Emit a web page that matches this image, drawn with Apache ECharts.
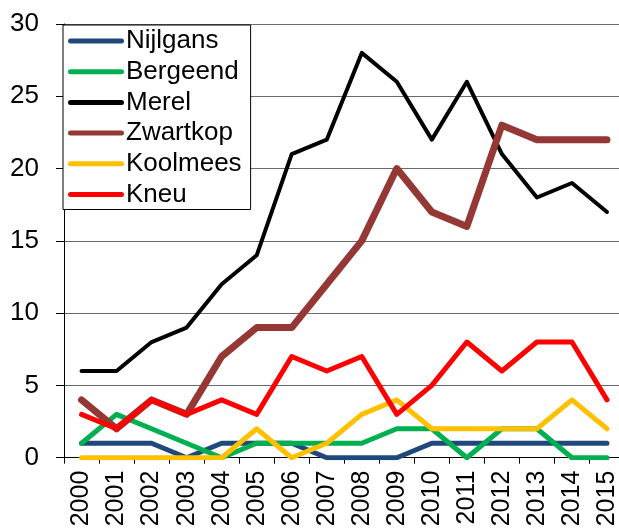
<!DOCTYPE html>
<html>
<head>
<meta charset="utf-8">
<script src="https://cdn.jsdelivr.net/npm/echarts@6/dist/echarts.min.js"></script>
<style>
  html, body { margin: 0; padding: 0; background: #fff; }
  #chart { width: 619px; height: 528px; }
</style>
</head>
<body>
<div id="chart"></div>
<script>
// jaren en tellingen per soort
const years = ['2000', '2001', '2002', '2003', '2004', '2005', '2006', '2007',
               '2008', '2009', '2010', '2011', '2012', '2013', '2014', '2015'];

const nijlgans  = [1, 1, 1, 0, 1, 1, 1, 0, 0, 0, 1, 1, 1, 1, 1, 1];
const bergeend  = [1, 3, 2, 1, 0, 1, 1, 1, 1, 2, 2, 0, 2, 2, 0, 0];
const merel     = [6, 6, 8, 9, 12, 14, 21, 22, 28, 26, 22, 26, 21, 18, 19, 17];
const zwartkop  = [4, 2, 4, 3, 7, 9, 9, 12, 15, 20, 17, 16, 23, 22, 22, 22];
const koolmees  = [0, 0, 0, 0, 0, 2, 0, 1, 3, 4, 2, 2, 2, 2, 4, 2];
const kneu      = [3, 2, 4, 3, 4, 3, 7, 6, 7, 3, 5, 8, 6, 8, 8, 4];

const yTicks = { min: 0, max: 30, step: 5 };

const font = 'Liberation Sans, Arial, sans-serif';

// lijn-serie maken
function makeLine(name, data, color, width) {
    return {
        name: name,
        type: 'line',
        data: data,
        symbol: 'none',
        animation: false,
        lineStyle: { color: color, width: width, cap: 'round', join: 'round' },
        itemStyle: { color: color }
    };
}

const chart = echarts.init(document.getElementById('chart'));

const option = {
    backgroundColor: '#fff',
    animation: false,
    grid: {
        left: 64,
        top: 24,
        right: -5.5,
        bottom: 70.3,
        outerBoundsMode: 'none'
    },
    legend: {
        orient: 'vertical',
        left: 63,
        top: 25,
        padding: [3, 9, 2, 5],
        itemGap: 4.7,
        itemWidth: 56,
        itemHeight: 5,
        icon: 'path://M2.5,0 L53.5,0 A2.5,2.5 0 0 1 53.5,5 L2.5,5 A2.5,2.5 0 0 1 2.5,0 Z',
        borderColor: '#000',
        borderWidth: 1,
        backgroundColor: '#fff',
        selectedMode: false,
        textStyle: { fontFamily: font, fontSize: 26, color: '#000', padding: [0, 0, 0, -3] },
        data: ['Nijlgans', 'Bergeend', 'Merel', 'Zwartkop', 'Koolmees', 'Kneu']
    },
    xAxis: {
        type: 'category',
        data: years,
        boundaryGap: true,
        axisLine: { lineStyle: { color: '#000', width: 1 } },
        axisTick: { show: true, length: 6, inside: false, lineStyle: { color: '#000' } },
        axisLabel: {
            rotate: 90,
            margin: 13,
            interval: 0,
            fontFamily: font,
            fontSize: 25,
            color: '#000'
        },
        splitLine: { show: false }
    },
    yAxis: {
        type: 'value',
        min: yTicks.min,
        max: yTicks.max,
        interval: yTicks.step,
        axisLine: { show: true, lineStyle: { color: '#000', width: 1 } },
        axisTick: { show: true, length: 8, lineStyle: { color: '#000' } },
        axisLabel: {
            margin: 25,
            fontFamily: font,
            fontSize: 26,
            color: '#000'
        },
        splitLine: { show: true, lineStyle: { color: '#6a6a6a', width: 1 } }
    },
    series: [
        makeLine('Nijlgans', nijlgans, '#1F497D', 5),
        makeLine('Bergeend', bergeend, '#00B050', 5),
        makeLine('Merel', merel, '#000000', 4),
        makeLine('Zwartkop', zwartkop, '#953735', 7),
        makeLine('Koolmees', koolmees, '#FFC000', 5),
        makeLine('Kneu', kneu, '#FF0000', 5)
    ]
};

chart.setOption(option);
</script>
</body>
</html>
